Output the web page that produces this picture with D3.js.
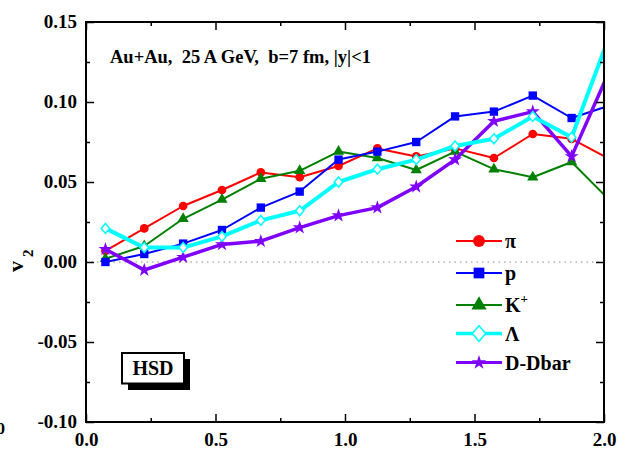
<!DOCTYPE html>
<html>
<head>
<meta charset="utf-8">
<script src="https://cdn.jsdelivr.net/npm/d3@7"></script>
<style>
  html, body { margin: 0; padding: 0; background: #fff; }
  svg { display: block; }
  text { font-family: "Liberation Serif", "Times New Roman", serif; font-weight: bold; }
</style>
</head>
<body>
<svg id="chart" width="618" height="450"></svg>
<script>
// ---- data ----
const pT = [0.075, 0.225, 0.375, 0.525, 0.675, 0.825, 0.975, 1.125, 1.275, 1.425, 1.575, 1.725, 1.875, 2.025];
const v2Pi  = [0.007, 0.021, 0.035, 0.045, 0.056, 0.053, 0.060, 0.071, 0.066, 0.071, 0.065, 0.080, 0.077, 0.064];
const v2P   = [0.000, 0.005, 0.0115, 0.020, 0.034, 0.044, 0.064, 0.069, 0.075, 0.091, 0.094, 0.104, 0.090, 0.098];
const v2K   = [0.002, 0.010, 0.027, 0.039, 0.052, 0.057, 0.069, 0.065, 0.0575, 0.069, 0.058, 0.053, 0.0625, 0.038];
const v2Lam = [0.021, 0.009, 0.009, 0.016, 0.026, 0.032, 0.050, 0.058, 0.064, 0.0725, 0.077, 0.091, 0.078, 0.143];
const v2D   = [0.008, -0.005, 0.003, 0.011, 0.013, 0.0215, 0.029, 0.034, 0.047, 0.064, 0.088, 0.094, 0.066, 0.121];

const xTicks = [0, 0.5, 1.0, 1.5, 2.0];
const xTickLabels = ["0.0", "0.5", "1.0", "1.5", "2.0"];
const xMinor = [0.25, 0.75, 1.25, 1.75];
const yTicks = [-0.10, -0.05, 0.00, 0.05, 0.10, 0.15];
const yTickLabels = ["-0.10", "-0.05", "0.00", "0.05", "0.10", "0.15"];
const yMinor = [-0.075, -0.025, 0.025, 0.075, 0.125];

const titleText = "Au+Au,  25 A GeV,  b=7 fm, |y|<1";

// ---- layout ----
const svg = d3.select("#chart");
const L = 86, R = 604, T = 22, B = 422;
const x = d3.scaleLinear().domain([0, 2]).range([L, R]);
const y = d3.scaleLinear().domain([-0.10, 0.15]).range([B, T]);

// custom diamond (taller than wide)
const diamond = {
  draw(ctx, size) {
    const h = Math.sqrt(size) * 0.62, w = h * 0.85;
    ctx.moveTo(0, -h); ctx.lineTo(w, 0); ctx.lineTo(0, h); ctx.lineTo(-w, 0); ctx.closePath();
  }
};

const series = [
  { key: "pi",  label: "π",      vals: v2Pi,  color: "#ff0000", lw: 2,   sym: d3.symbolCircle,   size: 60,  lsize: 110, open: false },
  { key: "K",   label: "K",      vals: v2K,   color: "#008000", lw: 2,   sym: d3.symbolTriangle, size: 55,  lsize: 100, open: false },
  { key: "p",   label: "p",      vals: v2P,   color: "#0000ff", lw: 2,   sym: d3.symbolSquare,   size: 70,  lsize: 115, open: false },
  { key: "D",   label: "D-Dbar", vals: v2D,   color: "#7f00ff", lw: 3.5, sym: d3.symbolStar,     size: 60,  lsize: 65,  open: false },
  { key: "lam", label: "Λ",      vals: v2Lam, color: "#00ffff", lw: 4,   sym: diamond,           size: 65,  lsize: 160, open: true }
];
const legendOrder = ["pi", "p", "K", "lam", "D"];

svg.append("clipPath").attr("id", "clip")
  .append("rect").attr("x", L).attr("y", T).attr("width", R - L).attr("height", B - T);

// zero dotted line
svg.append("line")
  .attr("x1", L).attr("x2", R).attr("y1", y(0)).attr("y2", y(0))
  .attr("stroke", "#b0b0b0").attr("stroke-width", 1.5).attr("stroke-dasharray", "1.5,4");

// series
const plot = svg.append("g").attr("clip-path", "url(#clip)");
const line = d3.line().x((d, i) => x(pT[i])).y(d => y(d));
series.forEach(s => {
  const g = plot.append("g");
  g.append("path").datum(s.vals)
    .attr("d", line).attr("fill", "none")
    .attr("stroke", s.color).attr("stroke-width", s.lw).attr("stroke-linejoin", "round");
  g.selectAll("path.m").data(s.vals).join("path").attr("class", "m")
    .attr("transform", (d, i) => `translate(${x(pT[i])},${y(d)})`)
    .attr("d", d3.symbol().type(s.sym).size(s.size))
    .attr("fill", s.open ? "#fff" : s.color)
    .attr("stroke", s.color).attr("stroke-width", s.open ? 1.5 : 0);
});

// axes
const fontSize = 19;
function styleAxis(g) {
  g.select(".domain").remove();
  g.selectAll("line").attr("stroke", "#000").attr("stroke-width", 1.5);
  g.selectAll("text").attr("font-size", fontSize).attr("fill", "#000")
    .style("font-family", '"Liberation Serif", serif').style("font-weight", "bold");
}
svg.append("g").attr("transform", `translate(${L},0)`)
  .call(d3.axisLeft(y).tickValues(yTicks).tickFormat((d, i) => yTickLabels[i]).tickSize(-8).tickPadding(9))
  .call(styleAxis)
  .selectAll("text").attr("dy", "0.27em");
svg.append("g").attr("transform", `translate(${L},0)`)
  .call(d3.axisLeft(y).tickValues(yMinor).tickFormat("").tickSize(-4)).call(styleAxis);
svg.append("g").attr("transform", `translate(${R},0)`)
  .call(d3.axisRight(y).tickValues(yTicks).tickFormat("").tickSize(-8)).call(styleAxis);
svg.append("g").attr("transform", `translate(${R},0)`)
  .call(d3.axisRight(y).tickValues(yMinor).tickFormat("").tickSize(-4)).call(styleAxis);
svg.append("g").attr("transform", `translate(0,${B})`)
  .call(d3.axisBottom(x).tickValues(xTicks).tickFormat((d, i) => xTickLabels[i]).tickSize(-8).tickPadding(10.5))
  .call(styleAxis);
svg.append("g").attr("transform", `translate(0,${B})`)
  .call(d3.axisBottom(x).tickValues(xMinor).tickFormat("").tickSize(-4)).call(styleAxis);
svg.append("g").attr("transform", `translate(0,${T})`)
  .call(d3.axisTop(x).tickValues(xTicks).tickFormat("").tickSize(-8)).call(styleAxis);
svg.append("g").attr("transform", `translate(0,${T})`)
  .call(d3.axisTop(x).tickValues(xMinor).tickFormat("").tickSize(-4)).call(styleAxis);

// frame
svg.append("rect").attr("x", L).attr("y", T).attr("width", R - L).attr("height", B - T)
  .attr("fill", "none").attr("stroke", "#000").attr("stroke-width", 2);

// title
svg.append("text").attr("x", 110).attr("y", 63).attr("font-size", 18.5)
  .style("white-space", "pre").attr("xml:space", "preserve").text(titleText);

// y label v2
const yl = svg.append("text").attr("transform", "translate(23,272) rotate(-90)").attr("font-size", 22);
yl.append("tspan").text("v");
yl.append("tspan").attr("font-size", 15).attr("dx", 4).attr("dy", 10).text("2");

// fragment at lower-left edge (part of a neighbouring label in the original)
svg.append("text").attr("x", 5).attr("y", 434).attr("text-anchor", "end").attr("font-size", 17).text("0");

// HSD box
svg.append("rect").attr("x", 128).attr("y", 359).attr("width", 62).attr("height", 31).attr("fill", "#000");
svg.append("rect").attr("x", 122).attr("y", 353).attr("width", 62).attr("height", 30.5)
  .attr("fill", "#fff").attr("stroke", "#000").attr("stroke-width", 2);
svg.append("text").attr("x", 153).attr("y", 374.5).attr("text-anchor", "middle").attr("font-size", 20).text("HSD");

// legend
const legRows = [241, 273, 305, 333.5, 362.5];
const leg = svg.append("g");
legendOrder.forEach((k, i) => {
  const s = series.find(d => d.key === k);
  const yy = legRows[i];
  leg.append("line").attr("x1", 456).attr("x2", 502).attr("y1", yy).attr("y2", yy)
    .attr("stroke", s.color).attr("stroke-width", s.lw >= 3 ? s.lw - 0.5 : s.lw);
  leg.append("path").attr("transform", `translate(479,${yy})`)
    .attr("d", d3.symbol().type(s.sym).size(s.lsize))
    .attr("fill", s.open ? "#fff" : s.color)
    .attr("stroke", s.color).attr("stroke-width", s.open ? 1.5 : 0);
  const t = leg.append("text").attr("x", 505).attr("y", yy + 7).attr("font-size", 20).text(s.label);
  if (k === "K") t.append("tspan").attr("font-size", 13).attr("dy", -9).text("+");
});
</script>
</body>
</html>
